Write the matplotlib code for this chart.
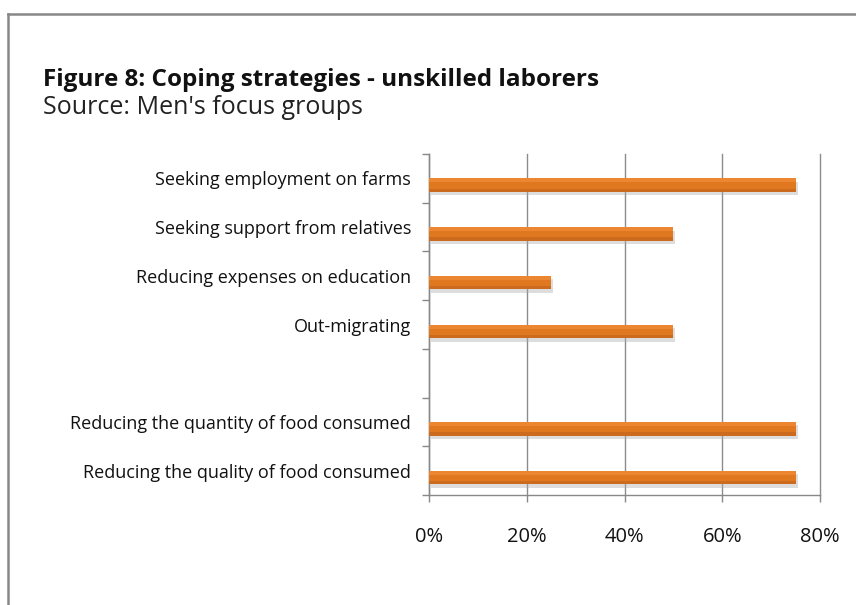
import matplotlib.pyplot as plt
import matplotlib.patheffects as pe
from matplotlib.lines import Line2D
from matplotlib.ticker import FuncFormatter

# categories top to bottom, blank entry leaves a gap row
categories = [
    "Seeking employment on farms",
    "Seeking support from relatives",
    "Reducing expenses on education",
    "Out-migrating",
    "",
    "Reducing the quantity of food consumed",
    "Reducing the quality of food consumed",
]
shares = [0.75, 0.50, 0.25, 0.50, None, 0.75, 0.75]
xticks = [0.0, 0.2, 0.4, 0.6, 0.8]

title = "Figure 8: Coping strategies - unskilled laborers"
subtitle = "Source: Men's focus groups"

FONT = "Open Sans"
W, H = 856, 605
fig = plt.figure(figsize=(W / 100, H / 100), dpi=100)
fig.patch.set_facecolor("white")

# outer frame, only left and top edges visible
fig.add_artist(Line2D([8 / W, 8 / W], [0, 1 - 13.5 / H], color="#888888", lw=1.8))
fig.add_artist(Line2D([8 / W, 1], [1 - 13.5 / H, 1 - 13.5 / H], color="#888888", lw=1.8))

fig.text(43 / W, 1 - 86 / H, title, fontsize=17.5, fontweight="bold",
         family=FONT, color="#111111")
fig.text(43 / W, 1 - 114 / H, subtitle, fontsize=18, family=FONT, color="#222222")

ax = fig.add_axes([429 / W, 1 - 495 / H, (820 - 429) / W, (495 - 154) / H])

bar_h = 0.28
shadow = [pe.SimplePatchShadow(offset=(1.5, -2.5), shadow_rgbFace="#aaaaaa", alpha=0.4),
          pe.Normal()]
for i, v in enumerate(shares):
    if v is None:
        continue
    # upper half of the slot stays empty, bar sits just below the centre
    b = ax.barh(i + bar_h / 2, v, height=bar_h, color="#E07820", edgecolor="none", zorder=3)
    b[0].set_path_effects(shadow)
    # light top / dark bottom for the shaded look
    ax.barh(i + bar_h * 0.15, v, height=bar_h * 0.3, color="#EC8630", edgecolor="none", zorder=4)
    ax.barh(i + bar_h * 0.88, v, height=bar_h * 0.24, color="#CC6A1E", edgecolor="none", zorder=4)

ax.set_xlim(0, 0.8)
ax.set_ylim(len(categories) - 0.5, -0.5)
ax.set_xticks(xticks)
ax.xaxis.set_major_formatter(FuncFormatter(lambda x, _: f"{x:.0%}"))
ax.set_yticks(range(len(categories)))
ax.set_yticklabels(categories)
ax.set_yticks([i - 0.5 for i in range(len(categories) + 1)], minor=True)

ax.tick_params(axis="y", which="major", length=0, pad=13, labelsize=13)
ax.tick_params(axis="y", which="minor", length=5, color="#888888", width=1)
ax.tick_params(axis="x", length=5, color="#888888", width=1, pad=18, labelsize=14.5)
for lab in ax.get_yticklabels() + ax.get_xticklabels():
    lab.set_family(FONT)
    lab.set_color("#111111")

ax.grid(axis="x", color="#8c8c8c", lw=1, zorder=0)
for gl in ax.get_xgridlines():
    gl.set_clip_on(False)
ax.set_axisbelow(True)
for side in ["top", "right"]:
    ax.spines[side].set_visible(False)
for side in ["left", "bottom"]:
    ax.spines[side].set_color("#888888")
    ax.spines[side].set_linewidth(1)

fig.savefig("out.png", dpi=100, facecolor="white")
